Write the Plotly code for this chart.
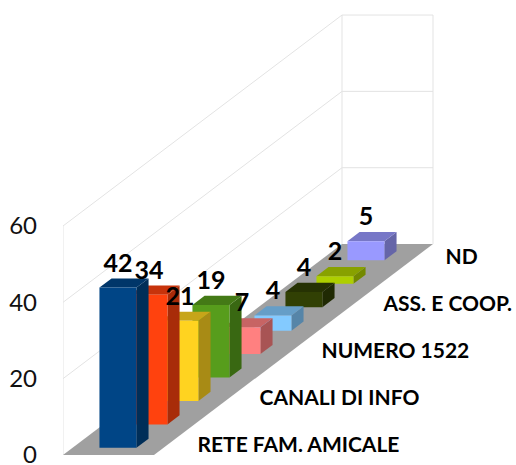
import plotly.graph_objects as go

# Data
categories = ["RETE FAM. AMICALE", "", "CANALI DI INFO", "", "NUMERO 1522", "", "ASS. E COOP.", "", "ND"]
values = [42, 34, 21, 19, 7, 4, 4, 2, 5]
colors = ["#004586", "#ff420e", "#ffd320", "#579d1c", "#ff8080", "#83caff", "#314004", "#aecf00", "#9999ff"]
y_ticks = [0, 20, 40, 60]

# Oblique projection settings (pixels of the 516x465 canvas)
PX_PER_VALUE = 229 / 60
CAT_DX = 31.0            # horizontal shift per category of depth, px
CAT_DY = 23.44           # vertical shift per category of depth, px
FLOOR_W = 91.0           # floor width, px
BAR_W = 37.0             # bar width, px
BAR_DEPTH = 0.39         # bar depth, in categories
LEFT, BASE = 63, 455     # pixel position of the axis and of value 0
W, H = 516, 465
N = len(categories)


def proj(side_px, depth, value):
    """x-axis unit = px right of the axis; y-axis unit = chart value."""
    return side_px + depth * CAT_DX, value + depth * CAT_DY / PX_PER_VALUE


def shade(hex_color, k):
    r, g, b = (int(hex_color[i:i + 2], 16) for i in (1, 3, 5))
    return f"rgb({round(r * k)},{round(g * k)},{round(b * k)})"


def poly(points, fill):
    xs, ys = zip(*[proj(*p) for p in points + points[:1]])
    return go.Scatter(x=xs, y=ys, mode="lines", fill="toself", fillcolor=fill,
                      line=dict(width=0, color=fill), hoverinfo="skip", showlegend=False)


def wall_line(points, color="#e3e3e3"):
    xs, ys = zip(*[proj(*p) for p in points])
    return go.Scatter(x=xs, y=ys, mode="lines", line=dict(width=1, color=color),
                      hoverinfo="skip", showlegend=False)


fig = go.Figure()
top_v = y_ticks[-1]

# walls
for v in y_ticks[1:]:
    fig.add_trace(wall_line([(0, 0, v), (0, N, v), (FLOOR_W, N, v)]))
fig.add_trace(wall_line([(0, 0, 0), (0, 0, top_v)]))
fig.add_trace(wall_line([(0, N, 0), (0, N, top_v)]))
fig.add_trace(wall_line([(FLOOR_W, N, 0), (FLOOR_W, N, top_v)]))

# floor
fig.add_trace(poly([(0, 0, 0), (FLOOR_W, 0, 0), (FLOOR_W, N, 0), (0, N, 0)], "#a0a0a0"))

# bars, back to front
gap = (1 - BAR_DEPTH) / 2
x0 = (FLOOR_W - BAR_W) / 2
x1 = x0 + BAR_W
for i in range(N - 1, -1, -1):
    v, c = values[i], colors[i]
    d0, d1 = i + gap, i + gap + BAR_DEPTH
    fig.add_trace(poly([(x1, d0, 0), (x1, d1, 0), (x1, d1, v), (x1, d0, v)], shade(c, 0.66)))
    fig.add_trace(poly([(x0, d0, v), (x1, d0, v), (x1, d1, v), (x0, d1, v)], shade(c, 0.78)))
    fig.add_trace(poly([(x0, d0, 0), (x1, d0, 0), (x1, d0, v), (x0, d0, v)], c))

# data labels, centred just above the back edge of each bar top
lx, ly = [], []
for i, v in enumerate(values):
    px, py = proj((x0 + x1) / 2, i + gap + BAR_DEPTH, v)
    lx.append(px - 12)
    ly.append(py + 13 / PX_PER_VALUE)
fig.add_trace(go.Scatter(x=lx, y=ly, mode="text", text=[str(v) for v in values],
                         textposition="middle center",
                         textfont=dict(family="Lato", size=25, color="black", weight="bold"),
                         hoverinfo="skip", showlegend=False, cliponaxis=False))

# category labels, to the right of the floor
cx, cy, ct = [], [], []
for i, name in enumerate(categories):
    if name:
        px, py = proj(FLOOR_W, i + 0.5, 0)
        cx.append(px + 28)
        cy.append(py - 3 / PX_PER_VALUE)
        ct.append(name)
fig.add_trace(go.Scatter(x=cx, y=cy, mode="text", text=ct, textposition="middle right",
                         textfont=dict(family="Lato", size=21, color="black", weight="bold"),
                         hoverinfo="skip", showlegend=False, cliponaxis=False))

fig.update_layout(
    width=W, height=H, autosize=False,
    margin=dict(l=LEFT, r=0, t=0, b=0, pad=0, autoexpand=False),
    paper_bgcolor="white", plot_bgcolor="white", showlegend=False,
    xaxis=dict(visible=False, range=[0, W - LEFT], fixedrange=True, automargin=False),
    yaxis=dict(range=[(BASE - H) / PX_PER_VALUE, BASE / PX_PER_VALUE], tickmode="array",
               tickvals=y_ticks, ticklabeloverflow="allow", automargin=False,
               showgrid=False, zeroline=False, showline=False, ticks="", ticklabelstandoff=25,
               tickfont=dict(family="Lato", size=24, color="#111111"), fixedrange=True),
)

fig.write_html("out.html", config={"displayModeBar": False},
               post_script="document.body.style.margin='0';")
